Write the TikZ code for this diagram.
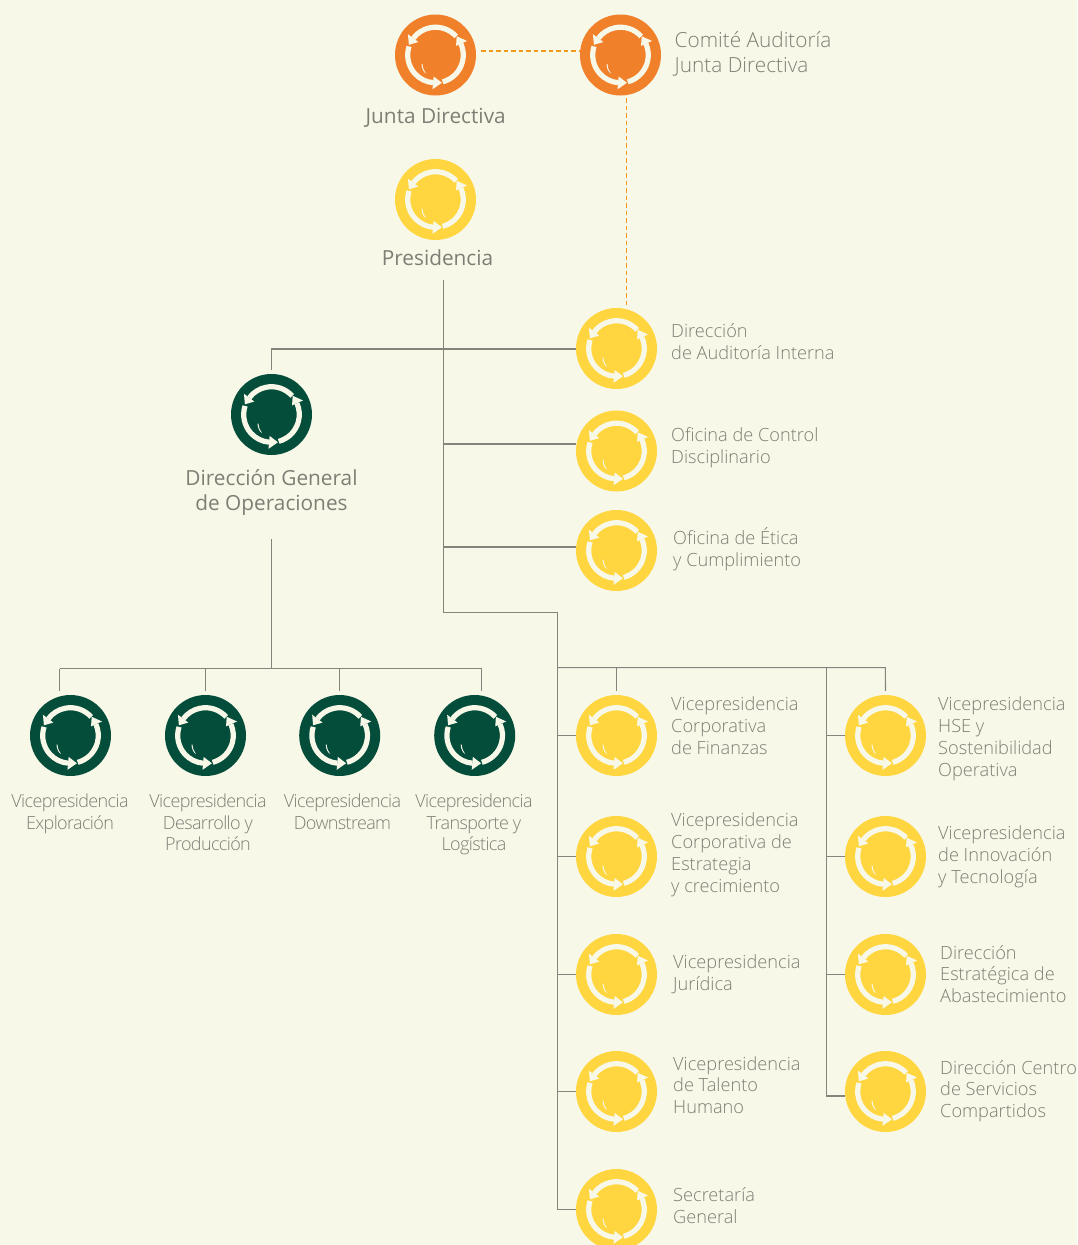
\documentclass[tikz,border=0pt]{standalone}
\usepackage{fontspec}
\setmainfont{Open Sans Light}
\newfontfamily\regfont{Open Sans}
\usetikzlibrary{calc}
\definecolor{bgc}{HTML}{F7F8E8}
\definecolor{orc}{HTML}{F1802A}
\definecolor{yec}{HTML}{FFD640}
\definecolor{grc}{HTML}{054D3B}
\definecolor{linec}{HTML}{84847C}
\definecolor{dashc}{HTML}{F39A1E}
\definecolor{txtc}{HTML}{7E7E75}
\newcommand{\ringicon}[4]{% name x y colour
  \node[iconbase,fill=#4] (#1) at (#2,#3) {};
  \begin{scope}[shift={(#2,#3)}]
    \draw[ringline] (42:27.8pt) arc[start angle=42,end angle=143,radius=27.8pt];
    \fill[bgc] (159:28.5pt) -- (143:34.5pt) -- (143:21.5pt) -- cycle;
    \draw[ringline] (162:27.8pt) arc[start angle=162,end angle=265,radius=27.8pt];
    \fill[bgc] (283:28.5pt) -- (265:34.5pt) -- (265:21.5pt) -- cycle;
    \draw[ringline] (285:27.8pt) arc[start angle=285,end angle=384,radius=27.8pt];
    \fill[bgc] (41.5:28.3pt) -- (24:34.5pt) -- (24:22.5pt) -- cycle;
    \fill[bgc] (-14pt,-9pt) .. controls (-13.7pt,-14pt) and (-12pt,-17pt) .. (-9.5pt,-18.5pt)
      .. controls (-11.5pt,-16pt) and (-12.7pt,-13pt) .. (-13pt,-9pt) -- cycle;
  \end{scope}}
\tikzset{
  iconbase/.style={circle,minimum size=81pt,inner sep=0pt,draw=none},
  ringline/.style={draw=bgc,line width=5.2pt},
  conn/.style={draw=linec,line width=1.05pt},
  dashconn/.style={draw=dashc,line width=1.2pt,dash pattern=on 4.5pt off 3pt},
  lab/.style={anchor=north west,inner sep=0pt,align=left,text=txtc,font=\fontsize{18.2}{22}\selectfont},
  labtight/.style={anchor=north west,inner sep=0pt,align=left,text=txtc,font=\fontsize{18.2}{21.6}\selectfont},
  toplab/.style={anchor=north west,inner sep=0pt,align=left,text=txtc,font=\fontsize{20.8}{25}\selectfont},
  headlab/.style={anchor=north,inner sep=0pt,align=center,text=txtc,font=\regfont\fontsize{20.8}{25.5}\selectfont},
  botlab/.style={anchor=north,inner sep=0pt,align=center,text=txtc,font=\fontsize{18}{21.5}\selectfont\addfontfeature{LetterSpace=-3.5}}
}
\begin{document}
\begin{tikzpicture}[x=1pt,y=-1pt]
\useasboundingbox (0,0) rectangle (1077,1245);
\clip (0,0) rectangle (1077,1245);
\fill[bgc] (0,0) rectangle (1077,1245);
% icons
\ringicon{jd}{435.5}{55}{orc}
\ringicon{ca}{620.5}{55}{orc}
\ringicon{pr}{435.5}{199.5}{yec}
\ringicon{dg}{271.5}{414.5}{grc}
\ringicon{au}{616.5}{348.5}{yec}
\ringicon{cd}{616.5}{451}{yec}
\ringicon{et}{616.5}{550.5}{yec}
\ringicon{ex}{70.5}{735.5}{grc}
\ringicon{de}{205.5}{735.5}{grc}
\ringicon{dw}{339.7}{735.5}{grc}
\ringicon{tr}{474.7}{735.5}{grc}
\ringicon{fi}{616.5}{735.5}{yec}
\ringicon{es}{616.5}{856.5}{yec}
\ringicon{ju}{616.5}{974.5}{yec}
\ringicon{ta}{616.5}{1091.5}{yec}
\ringicon{se}{616.5}{1209.5}{yec}
\ringicon{hs}{885.5}{735.5}{yec}
\ringicon{in}{885.5}{856.5}{yec}
\ringicon{ab}{885.5}{974.5}{yec}
\ringicon{sc}{885.5}{1091.5}{yec}
% labels
\node[headlab] (ljd) at (435.7,108) {Junta Directiva};
\node[toplab] (lca) at (674.5,31) {Comité Auditoría\\Junta Directiva};
\node[headlab] (lpr) at (437.5,249) {Presidencia};
\node[headlab] (ldg) at (271.5,469) {Dirección General\\de Operaciones};
\node[lab] (lau) at (671,323) {Dirección\\de Auditoría Interna};
\node[lab] (lcd) at (671,427) {Oficina de Control\\Disciplinario};
\node[lab] (let) at (673,527) {Oficina de Ética\\y Cumplimiento};
\node[botlab] (lex) at (70,794) {Vicepresidencia\\Exploración};
\node[botlab] (lde) at (208,794) {Vicepresidencia\\Desarrollo y\\Producción};
\node[botlab] (ldw) at (342.5,794) {Vicepresidencia\\Downstream};
\node[botlab] (ltr) at (474,794) {Vicepresidencia\\Transporte y\\Logística};
\node[lab] (lfi) at (671,696) {Vicepresidencia\\Corporativa\\de Finanzas};
\node[lab] (les) at (671,812) {Vicepresidencia\\Corporativa de\\Estrategia\\y crecimiento};
\node[lab] (lju) at (673,954) {Vicepresidencia\\Jurídica};
\node[labtight] (lta) at (673,1056) {Vicepresidencia\\de Talento\\Humano};
\node[lab] (lse) at (673,1187) {Secretaría\\General};
\node[lab] (lhs) at (938,696) {Vicepresidencia\\HSE y\\Sostenibilidad\\Operativa};
\node[lab] (lin) at (938,825) {Vicepresidencia\\de Innovación\\y Tecnología};
\node[labtight] (lab) at (940,945) {Dirección\\Estratégica de\\Abastecimiento};
\node[labtight] (lsc) at (940,1060) {Dirección Centro\\de Servicios\\Compartidos};
% junctions
\coordinate (t0) at (443.4,280);
\coordinate (t1) at (443.4,612.5);
\coordinate (t2) at (557.7,612.5);
\coordinate (t3) at (557.7,1209.5);
\coordinate (hA) at (443.4,349);
\coordinate (hB) at (443.4,444);
\coordinate (hC) at (443.4,547);
\coordinate (g0) at (271.5,539);
\coordinate (g1) at (271.5,668.5);
\coordinate (gl) at (59.5,668.5);
\coordinate (gr) at (481.5,668.5);
\coordinate (r0) at (557.7,667.7);
\coordinate (r1) at (885.4,667.7);
\coordinate (r2) at (826.7,667.7);
\coordinate (r3) at (826.7,1096);
\coordinate (dA) at (481,51);
\coordinate (dB) at (580,51);
\coordinate (dC) at (626.5,98);
\coordinate (dD) at (626.5,307);
% connectors
\draw[conn] (t0) -- (t1) -- (t2) -- (t3) -- (se.west);
\draw[conn] (au.west |- hA) -| ([yshift=4pt]dg.north);
\draw[conn] (hB) -- (hB -| cd.west);
\draw[conn] (hC) -- (hC -| et.west);
\draw[conn] (g0) -- (g1);
\draw[conn] (gl) -- (gr);
\draw[conn] (gl) -- ([yshift=4pt]gl |- ex.north);
\draw[conn] (de.north |- g1) -- ([yshift=4pt]de.north);
\draw[conn] (dw.north |- g1) -- ([yshift=4pt]dw.north);
\draw[conn] (gr) -- ([yshift=4pt]gr |- tr.north);
\draw[conn] (r0) -- (r1) -- ([yshift=4pt]hs.north);
\draw[conn] (fi.north |- r0) -- ([yshift=4pt]fi.north);
\draw[conn] (r2) -- (r3) -- (r3 -| sc.west);
\draw[conn] (r0 |- fi) -- (fi.west);
\draw[conn] (r0 |- es) -- (es.west);
\draw[conn] (r0 |- ju) -- (ju.west);
\draw[conn] (r0 |- ta) -- (ta.west);
\draw[conn] (r2 |- hs) -- (hs.west);
\draw[conn] (r2 |- in) -- (in.west);
\draw[conn] (r2 |- ab) -- (ab.west);
\draw[dashconn] (dA) -- (dB);
\draw[dashconn] (dC) -- (dD);
\end{tikzpicture}
\end{document}
